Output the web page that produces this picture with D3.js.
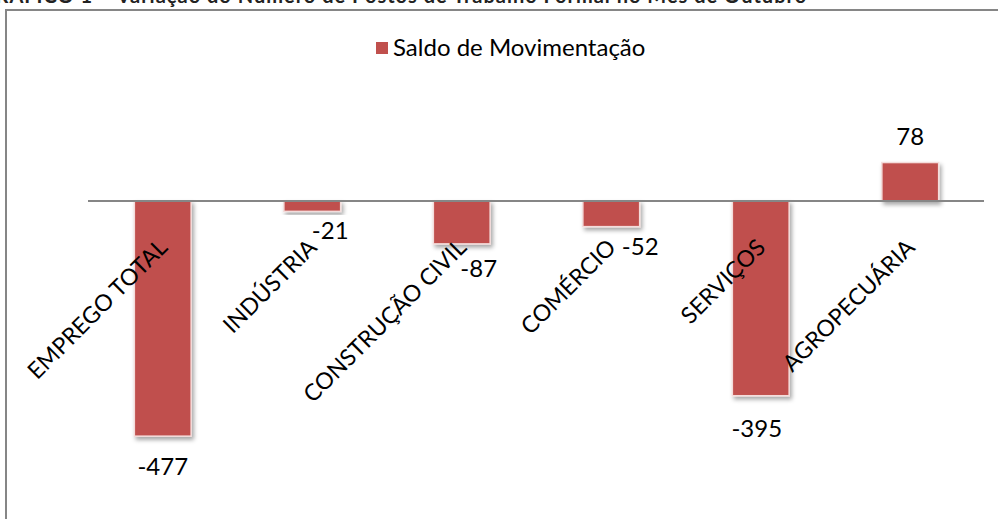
<!DOCTYPE html>
<html>
<head>
<meta charset="utf-8">
<script src="https://cdn.jsdelivr.net/npm/d3@7"></script>
<style>
  html, body { margin: 0; padding: 0; background: #fff; }
  svg { display: block; font-family: Lato, "Open Sans", sans-serif; }
</style>
</head>
<body>
<div id="chart"></div>
<script>
// ---- Data -------------------------------------------------------------------
const categories = ["EMPREGO TOTAL", "INDÚSTRIA", "CONSTRUÇÃO CIVIL", "COMÉRCIO", "SERVIÇOS", "AGROPECUÁRIA"];
const saldo = [-477, -21, -87, -52, -395, 78];
const seriesName = "Saldo de Movimentação";
const titleText = "GRÁFICO 1 – Variação do Número de Postos de Trabalho Formal no Mês de Outubro";

// label nudges (Excel moved some data labels to dodge the category text)
const labelNudge = [[0, 15], [18, 4], [17, 9], [29, 4], [-4, 17], [0, 0]];

const W = 998, H = 519;
const color = "#C0504D";

const svg = d3.select("#chart").append("svg")
  .attr("width", W).attr("height", H);

// drop shadow for bars
const defs = svg.append("defs");
const f = defs.append("filter").attr("id", "shadow")
  .attr("x", "-20%").attr("y", "-20%").attr("width", "150%").attr("height", "150%");
f.append("feDropShadow").attr("dx", 2).attr("dy", 3).attr("stdDeviation", 2)
  .attr("flood-color", "#000").attr("flood-opacity", 0.35);

// clipped title strip at the very top (cut off in the source too)
svg.append("text")
  .attr("x", -20).attr("y", 3)
  .attr("font-weight", "bold").attr("font-size", 20)
  .attr("letter-spacing", 1)
  .attr("fill", "#222")
  .text(titleText);

// chart frame
svg.append("path")
  .attr("d", `M6,${H} L6,10 L${W},10`)
  .attr("fill", "none").attr("stroke", "#868686").attr("stroke-width", 2);

// ---- Scales -----------------------------------------------------------------
const x = d3.scaleBand().domain(categories).range([88, 985]).paddingInner(0.62).paddingOuter(0.31);
const y = d3.scaleLinear().domain([-500, 100]).range([201 + 500 * 0.493, 201 - 100 * 0.493]);

// bars
svg.append("g").selectAll("rect")
  .data(saldo)
  .join("rect")
  .attr("x", (d, i) => x(categories[i]))
  .attr("width", x.bandwidth())
  .attr("y", d => y(Math.max(0, d)))
  .attr("height", d => Math.abs(y(d) - y(0)))
  .attr("fill", color)
  .attr("stroke", "#f4dcdb").attr("stroke-width", 1.5)
  .attr("filter", "url(#shadow)");

// zero axis line
svg.append("line")
  .attr("x1", 88).attr("x2", 984)
  .attr("y1", y(0)).attr("y2", y(0))
  .attr("stroke", "#868686").attr("stroke-width", 2);

// category labels rotated -45
svg.append("g").selectAll("text")
  .data(categories)
  .join("text")
  .attr("transform", d => `translate(${x(d) + x.bandwidth() / 2 + 6},249) rotate(-45)`)
  .attr("text-anchor", "end")
  .attr("font-size", 23)
  .attr("fill", "#000")
  .text(d => d);

// data labels
svg.append("g").selectAll("text")
  .data(saldo)
  .join("text")
  .attr("x", (d, i) => x(categories[i]) + x.bandwidth() / 2 + labelNudge[i][0])
  .attr("y", (d, i) => (d < 0 ? y(d) + 24 : y(d) - 18) + labelNudge[i][1])
  .attr("text-anchor", "middle")
  .attr("font-size", 24)
  .attr("fill", "#000")
  .text(d => d);

// legend
const lg = svg.append("g").attr("transform", "translate(376,42)");
lg.append("rect").attr("width", 12).attr("height", 12).attr("fill", color);
lg.append("text").attr("x", 17).attr("y", 14)
  .attr("font-size", 24).attr("fill", "#000")
  .text(seriesName);
</script>
</body>
</html>
